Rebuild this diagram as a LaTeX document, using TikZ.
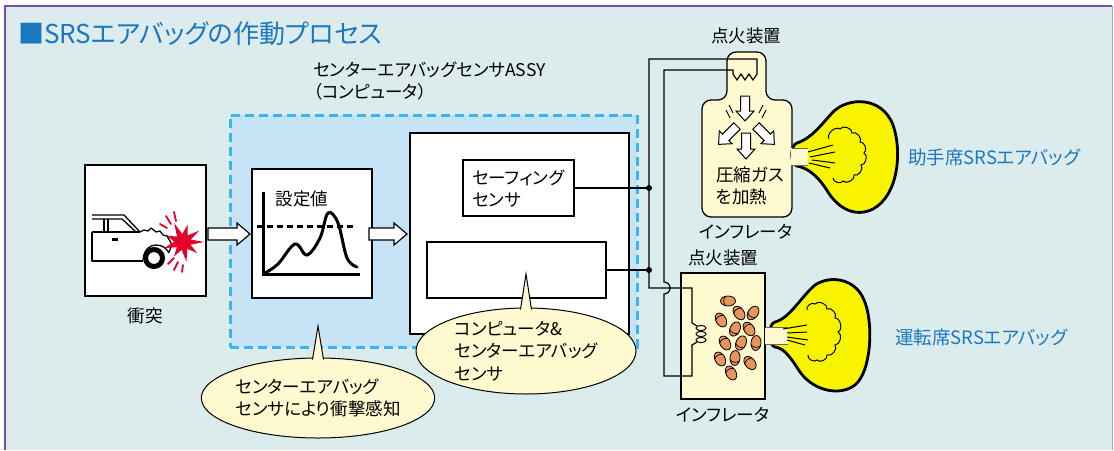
\documentclass[tikz,border=0pt]{standalone}
\usepackage{fontspec}
\newfontfamily\jp[RawFeature=+palt]{Noto Sans CJK JP}
\usetikzlibrary{shapes.geometric,calc}

\definecolor{panel}{HTML}{DCEBEC}
\definecolor{frameline}{HTML}{7050A8}
\definecolor{frameside}{HTML}{A8A4C8}
\definecolor{headblue}{HTML}{1B78C0}
\definecolor{assyfill}{HTML}{C6E4F6}
\definecolor{assyline}{HTML}{3CB4EC}
\definecolor{cream}{HTML}{FFF9D0}
\definecolor{bagfill}{HTML}{F8F400}
\definecolor{pelletfill}{HTML}{E8955C}
\definecolor{burst}{HTML}{E5002A}

\begin{document}
\begin{tikzpicture}[x=1pt,y=-1pt,
  txt/.style={font=\jp\fontsize{17.5}{22}\selectfont, inner sep=0, text=black},
  bluetxt/.style={font=\jp\fontsize{18.5}{22}\selectfont, inner sep=0, text=headblue},
  box/.style={draw=black, fill=white, line width=1.3pt, inner sep=0, outer sep=0},
  wire/.style={line width=1.2pt, line join=miter},
  junction/.style={circle, fill=black, inner sep=0, minimum size=6pt},
  bag/.style={fill=bagfill, draw=black, line width=2.8pt},
  bubble/.style={ellipse, fill=cream, draw=black, line width=1pt, inner sep=0, align=left,
    font=\jp\fontsize{17.5}{22.5}\selectfont},
  thick axis/.style={line width=3pt},
  % hollow block arrow: length / shaft half width / head half width / head length
  pics/hollowarrow/.style args={#1/#2/#3/#4}{code={
    \draw[fill=white, line join=miter] (0,-#2) -- ({#1-#4},-#2) -- ({#1-#4},-#3) -- (#1,0)
      -- ({#1-#4},#3) -- ({#1-#4},#2) -- (0,#2) -- cycle;
  }},
  pics/pellet/.style={code={
    \fill[pelletfill] (0,0) ellipse (7.5 and 5);
    \draw[line width=0.8pt] (0,0) ellipse (7.5 and 5);
    \draw[line width=0.7pt] (-2.5,-4.8) .. controls (-5,-1.6) and (-5,1.6) .. (-2.5,4.8);
  }}
]
\useasboundingbox (0,0) rectangle (1114,450);
\fill[white] (0,0) rectangle (1114,450);
\fill[panel] (5,6) rectangle (1112,450);
\draw[frameside, line width=1pt] (1112,6) -- (1112,450);
\draw[frameline, line width=1.6pt] (5,450) -- (5,6) -- (1112,6);

% heading
\node[anchor=base west, inner sep=0, text=headblue, font=\jp\fontsize{26}{30}\selectfont]
  (head) at (18,43) {■SRSエアバッグの作動プロセス};

% ---------- collision ----------
\node[box, minimum width=121, minimum height=131] (crash) at (145.5,230.5) {};
\node[txt] (crashlbl) at (145,316) {衝突};
\begin{scope}[line width=1.3pt, line join=round]
  \draw (92,215) -- (124,215) -- (140,232);
  \draw (92,219) -- (122,219) -- (136,232);
  \draw (104,219) -- (104,232);
  \draw (108,219) -- (108,232);
  \draw (92,232) -- (140,232);
  \draw (92,232) -- (92,261) -- (143,261);
  \fill (112,238) rectangle (118,241);
  \draw (140,232) -- (144,230) -- (148,231) -- (151,228) -- (156,232) -- (160,231)
        -- (163,235) -- (167,236) -- (170,241) -- (172,245) -- (169,252);
  \draw (143,260) .. controls (144,249) and (150,245) .. (156,245)
        .. controls (163,245) and (167,249) .. (169,253);
\end{scope}
\draw[line width=5pt, fill=white] (154,258) circle (8.5);
\begin{scope}[shift={(183,242)}]
  \fill[burst] (0:21) -- (20:8) -- (38:18) -- (58:8) -- (80:20) -- (100:8) -- (122:17)
    -- (140:8) -- (162:20) -- (182:9) -- (202:17) -- (222:8) -- (245:21) -- (265:8)
    -- (285:18) -- (305:8) -- (325:20) -- (342:8) -- cycle;
\end{scope}
\begin{scope}[burst, line width=1.8pt, line cap=round]
  \draw (166,216) -- (171,224);
  \draw (174,212) -- (176,221);
  \draw (160,224) -- (167,228);
  \draw (168,264) -- (174,258);
  \draw (174,270) -- (178,262);
  \draw (182,272) -- (183,265);
\end{scope}

% ---------- sensor assembly ----------
\node[draw=assyline, fill=assyfill, line width=3pt, dash pattern=on 9pt off 5pt,
  minimum width=407, minimum height=232, inner sep=0] (assy) at (433.5,231) {};
\node[txt, anchor=west, align=left] (assylbl) at (313,81)
  {センターエアバッグセンサASSY\\（コンピュータ）};

% threshold graph
\node[box, minimum width=120, minimum height=129] (graph) at (312,233.5) {};
\node[txt] (setval) at (302,199) {設定値};
\draw[thick axis] (263,192) -- (263,274) -- (360,274);
\draw[thick axis, dash pattern=on 6pt off 4pt] (257,226) -- (356,226);
\draw[thick axis, line cap=round] plot[smooth, tension=0.6] coordinates
  {(265,273) (278,264) (295,244) (307,255) (320,238) (328,213) (338,223) (347,258) (357,267)};

% computer
\node[box, minimum width=219, minimum height=201] (ecu) at (519.5,233.5) {};
\node[box, minimum width=111, minimum height=56] (safing) at (518.5,188) {};
\node[txt, anchor=west, align=left] (safinglbl) at (472,189) {セーフィング\\センサ};
\node[box, minimum width=179, minimum height=56] (cpu) at (516.5,270) {};

% flow arrows
\pic[line width=1.2pt] at ($(crash.east)+(2,3.5)$) {hollowarrow=42/6/11/13};
\pic[line width=1.2pt] at ($(graph.east)+(-3,0.5)$) {hollowarrow=38/6/11/13};

% ---------- inflaters ----------
% passenger side inflater
\draw[fill=cream, line width=1.3pt, rounded corners=9pt]
  (746,52) -- (766,52) -- (766,100) -- (792,100) -- (792,217) -- (702,217)
  -- (702,100) -- (727,100) -- (727,52) -- cycle;
\begin{scope}[line width=0.9pt]
  \draw (729,105) -- (733,113);
  \draw (726,110) -- (730,118);
  \draw (763,105) -- (759,113);
  \draw (766,110) -- (762,118);
\end{scope}
\pic[rotate=-90, line width=1pt] at (745,96) {hollowarrow=25/4.5/9/10};
\pic[rotate=-135, line width=1pt] at (737,126) {hollowarrow=26/4.5/9/10};
\pic[rotate=-45, line width=1pt] at (756,126) {hollowarrow=26/4.5/9/10};
\pic[rotate=-90, line width=1pt] at (746,133) {hollowarrow=26/4.5/9/10};
\node[txt, anchor=west, align=left] (gaslbl) at (716,186) {圧縮ガス\\を加熱};
\node[txt] (ignA) at (746,36) {点火装置};
\node[txt] (infAlbl) at (746,232) {インフレータ};

% driver side inflater
\node[box, fill=cream, minimum width=84, minimum height=126] (infB) at (723,336) {};
\node[txt] (ignB) at (723,258) {点火装置};
\node[txt] (infBlbl) at (723,415) {インフレータ};
\foreach \px/\py/\r in {728/301/0, 739/313/-55, 753/313/55, 721/320/-60, 735/329/65,
    749/329/-55, 725/343/-60, 741/343/65, 756/343/85, 720/359/-60, 735/358/85,
    750/363/-50, 731/373/-60}
  \pic[rotate=\r] at (\px,\py) {pellet};

% ---------- wiring ----------
\coordinate (jA) at (649,188);
\coordinate (jB) at (649,270);
\draw[wire] (safing.east) -- (jA);
\draw[wire] (cpu.east) -- (cpu.east -| jB);
\draw[wire] (jA) -- (649,59) -- (757,59) -- (757,74) -- (753,80) -- (749,74) -- (745,80)
  -- (741,74) -- (737,80) -- (733,74) -- (733,70) -- (664,70) -- (664,282)
  arc[start angle=-90, end angle=90, radius=6] -- (664,376) -- (692,376) -- (692,345)
  -- (697,342);
\draw[wire] (jA) -- (jB) -- (649,288) -- (692,288) -- (692,323) -- (697,326);
\begin{scope}[line width=1pt]
  \draw (701,328) ellipse (5 and 2.6);
  \draw (701,334) ellipse (5 and 2.6);
  \draw (701,340) ellipse (5 and 2.6);
\end{scope}
\node[junction] at (jA) {};
\node[junction] at (jB) {};

% ---------- air bags ----------
\draw[bag] (797,143) .. controls (812,138) and (820,126) .. (833,112)
  .. controls (848,97) and (882,96) .. (893,125)
  .. controls (902,150) and (899,195) .. (873,209)
  .. controls (855,218) and (838,208) .. (828,192)
  .. controls (818,176) and (808,168) .. (797,166)
  .. controls (790,164) and (790,145) .. (797,143) -- cycle;
\fill[cream] (791,148) rectangle (808,165);
\draw[line width=0.6pt, black!60] (792,148) -- (808,148) (792,165) -- (808,165);
\begin{scope}[line width=1pt]
  \draw (808,152) -- (833,145);
  \draw (810,157) -- (835,152);
  \draw (812,160) -- (835,163);
  \draw (809,163) -- (830,168);
  \draw (829,139) to[bend left=80] (840,129) to[bend left=80] (852,133)
    to[bend left=80] (860,142) to[bend left=80] (864,153) to[bend left=80] (861,165)
    to[bend left=80] (854,175) to[bend left=80] (843,181) to[bend left=80] (833,178);
\end{scope}
\node[bluetxt, anchor=west] (bagA) at (908,157) {助手席SRSエアバッグ};

\draw[bag] (775,322) .. controls (790,318) and (800,298) .. (815,285)
  .. controls (830,275) and (855,278) .. (864,300)
  .. controls (873,320) and (872,365) .. (858,382)
  .. controls (845,397) and (815,393) .. (800,372)
  .. controls (792,360) and (785,348) .. (775,347)
  .. controls (768,346) and (768,323) .. (775,322) -- cycle;
\fill[cream] (765,327) rectangle (788,344);
\draw[line width=0.6pt, black!60] (765,327) -- (788,327) (765,344) -- (788,344);
\begin{scope}[line width=1pt]
  \draw (783,329) -- (807,325);
  \draw (787,333) -- (807,332);
  \draw (787,337) -- (808,340);
  \draw (787,340) -- (805,345);
  \draw (807,310) to[bend left=80] (815,304) to[bend left=80] (827,309)
    to[bend left=80] (835,318) to[bend left=80] (838,332) to[bend left=80] (835,345)
    to[bend left=80] (827,355) to[bend left=80] (817,360) to[bend left=80] (808,355);
\end{scope}
\node[bluetxt, anchor=west] (bagB) at (895,337) {運転席SRSエアバッグ};

% ---------- call-outs ----------
\node[bubble, minimum width=204, minimum height=80] (note1) at (318,398)
  {センターエアバッグ\\センサにより衝撃感知};
\fill[cream] (312,362) -- (318,326) -- (324,362) -- cycle;
\draw[line width=1pt] (312.5,359.5) -- (318,326) -- (323.5,359.5);

\node[bubble, minimum width=220, minimum height=86] (note2) at (526,351)
  {コンピュータ\&\\センターエアバッグ\\センサ};
\fill[cream] (520,312) -- (526,274) -- (532,312) -- cycle;
\draw[line width=1pt] (520.5,309.5) -- (526,274) -- (531.5,309.5);
\end{tikzpicture}
\end{document}
